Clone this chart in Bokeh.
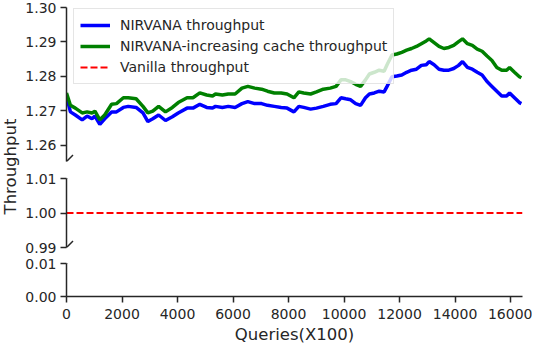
import math
from bokeh.plotting import figure
from bokeh.models import (Range1d, FixedTicker, Arrow, Label, Legend, LegendItem,
                          PrintfTickFormatter)
from bokeh.layouts import row, column
from bokeh.embed import file_html
from bokeh.resources import INLINE

# ---------------- data ----------------
queries = [0, 141, 318, 565, 742, 918, 1024, 1201, 1377, 1625, 1801, 2049, 2225, 2508,
           2755, 2932, 3108, 3320, 3567, 3815, 4026, 4344, 4556, 4804, 5051, 5263, 5369,
           5616, 5828, 6075, 6322, 6534, 6781, 7029, 7241, 7488, 7735, 7947, 8194, 8371,
           8547, 8795, 9007, 9254, 9501, 9713, 9889, 10060, 10238, 10419, 10596, 10773,
           10914, 11090, 11267, 11444, 11550, 11726, 11903, 12080, 12256, 12433, 12609,
           12786, 12962, 13068, 13245, 13422, 13598, 13775, 13951, 14128, 14269, 14446,
           14622, 14799, 14975, 15152, 15329, 15505, 15682, 15858, 15964, 16141, 16318,
           16389]
nirvana = [1.2743, 1.2697, 1.2688, 1.2674, 1.2685, 1.2677, 1.2685, 1.2661, 1.2677, 1.2697,
           1.2697, 1.2710, 1.2713, 1.2710, 1.2694, 1.2669, 1.2677, 1.2688, 1.2672, 1.2683,
           1.2694, 1.2708, 1.2708, 1.2719, 1.2710, 1.2708, 1.2713, 1.2710, 1.2713, 1.2710,
           1.2721, 1.2727, 1.2721, 1.2721, 1.2716, 1.2713, 1.2710, 1.2708, 1.2697, 1.2713,
           1.2710, 1.2705, 1.2708, 1.2713, 1.2719, 1.2721, 1.2738, 1.2735, 1.2732, 1.2721,
           1.2716, 1.2738, 1.2749, 1.2752, 1.2757, 1.2755, 1.2771, 1.2799, 1.2801, 1.2804,
           1.2812, 1.2818, 1.2821, 1.2832, 1.2834, 1.2843, 1.2834, 1.2821, 1.2818, 1.2818,
           1.2823, 1.2832, 1.2843, 1.2826, 1.2821, 1.2812, 1.2804, 1.2785, 1.2771, 1.2757,
           1.2743, 1.2743, 1.2752, 1.2738, 1.2724, 1.2721]
nirvana_inc = [1.2752, 1.2716, 1.2708, 1.2694, 1.2697, 1.2694, 1.2699, 1.2674, 1.2688, 1.2719,
               1.2721, 1.2738, 1.2738, 1.2735, 1.2713, 1.2694, 1.2699, 1.2713, 1.2697, 1.2710,
               1.2724, 1.2738, 1.2738, 1.2752, 1.2746, 1.2743, 1.2749, 1.2746, 1.2749, 1.2749,
               1.2766, 1.2771, 1.2766, 1.2763, 1.2757, 1.2752, 1.2752, 1.2749, 1.2738, 1.2755,
               1.2752, 1.2749, 1.2755, 1.2763, 1.2766, 1.2771, 1.2790, 1.2790, 1.2785, 1.2777,
               1.2771, 1.2790, 1.2807, 1.2812, 1.2818, 1.2815, 1.2834, 1.2862, 1.2865, 1.2870,
               1.2876, 1.2881, 1.2887, 1.2895, 1.2903, 1.2909, 1.2898, 1.2887, 1.2881, 1.2884,
               1.2890, 1.2901, 1.2909, 1.2895, 1.2890, 1.2879, 1.2873, 1.2859, 1.2846, 1.2826,
               1.2818, 1.2818, 1.2826, 1.2812, 1.2799, 1.2796]
vanilla_x = [0, 16430]
vanilla_y = [1.0, 1.0]

x_max = 16430
top_range = (1.2553, 1.30)
mid_range = (0.99, 1.01)
bot_range = (0.0, 0.01)
top_ticks = [1.26, 1.27, 1.28, 1.29, 1.30]
mid_ticks = [0.99, 1.00, 1.01]
bot_ticks = [0.00, 0.01]
x_ticks = [0, 2000, 4000, 6000, 8000, 10000, 12000, 14000, 16000]

labels = ["NIRVANA throughput", "NIRVANA-increasing cache throughput", "Vanilla throughput"]
x_label = "Queries(X100)"
y_label = "Throughput"

# ---------------- style ----------------
TEXT = "#262626"
FONT = "DejaVu Sans"
LEFT_W = 20
MAIN_W = 512
B_LEFT = 46
B_RIGHT = 10
FRAME_W = MAIN_W - B_LEFT - B_RIGHT
MARK = 6.5  # half size of break marks in px

x_range = Range1d(0, x_max)


def make_fig(height, yr, ticks, b_top, b_bottom, show_x):
    p = figure(width=MAIN_W, height=height, x_range=x_range, y_range=Range1d(*yr),
               output_backend="svg", toolbar_location=None, title=None,
               min_border_left=B_LEFT, min_border_right=B_RIGHT,
               min_border_top=b_top, min_border_bottom=b_bottom,
               x_axis_location="below" if show_x else None)
    p.grid.visible = False
    p.outline_line_color = None
    ax = p.yaxis[0]
    ax.ticker = FixedTicker(ticks=ticks)
    ax.formatter = PrintfTickFormatter(format="%.2f")
    ax.major_label_text_font = FONT
    ax.major_label_text_font_size = "14px"
    ax.major_label_text_color = TEXT
    ax.axis_line_color = TEXT
    ax.axis_line_width = 1.5
    ax.major_tick_line_color = TEXT
    ax.major_tick_line_width = 1.5
    ax.major_tick_out = 6
    ax.major_tick_in = 0
    ax.minor_tick_line_color = None
    ax.major_label_standoff = 4
    frame_h = height - b_top - b_bottom
    return p, frame_h


def add_break(p, y0, yr, frame_h):
    dx = x_max * MARK / FRAME_W
    dy = (yr[1] - yr[0]) * MARK / frame_h
    p.add_layout(Arrow(end=None, x_start=-dx, y_start=y0 - dy, x_end=dx, y_end=y0 + dy,
                       line_color=TEXT, line_width=1.5))


TOP_H, MID_H, BOT_H = 169, 86, 91
top, top_h = make_fig(TOP_H, top_range, top_ticks, 7, 8, False)
mid, mid_h = make_fig(MID_H, mid_range, mid_ticks, 9, 8, False)
bot, bot_h = make_fig(BOT_H, bot_range, bot_ticks, 8, 48, True)

for p in (top, mid, bot):
    rb = p.line(queries, nirvana, line_color="#0000ff", line_width=3.5)
    rg = p.line(queries, nirvana_inc, line_color="#008000", line_width=3.5)
    rr = p.line(vanilla_x, vanilla_y, line_color="#ff0000", line_width=2, line_dash="7 3")
    if p is top:
        legend_renderers = [rb, rg, rr]

xa = bot.xaxis[0]
xa.ticker = FixedTicker(ticks=x_ticks)
xa.formatter = PrintfTickFormatter(format="%d")
xa.major_label_text_font = FONT
xa.major_label_text_font_size = "14px"
xa.major_label_text_color = TEXT
xa.axis_line_color = TEXT
xa.axis_line_width = 1.5
xa.major_tick_line_color = TEXT
xa.major_tick_line_width = 1.5
xa.major_tick_out = 6
xa.major_tick_in = 0
xa.minor_tick_line_color = None
xa.major_label_standoff = 6
xa.axis_label = x_label
xa.axis_label_text_font = FONT
xa.axis_label_text_font_size = "16.5px"
xa.axis_label_text_font_style = "normal"
xa.axis_label_text_color = TEXT
xa.axis_label_standoff = 3

add_break(top, top_range[0], top_range, top_h)
add_break(mid, mid_range[1], mid_range, mid_h)
add_break(mid, mid_range[0], mid_range, mid_h)
add_break(bot, bot_range[1], bot_range, bot_h)

legend = Legend(items=[LegendItem(label=l, renderers=[r]) for l, r in zip(labels, legend_renderers)],
                location=(7, top_h - 77), margin=0, padding=6, spacing=1,
                glyph_width=30, glyph_height=20, label_height=20, label_standoff=10,
                label_text_font=FONT, label_text_font_size="14px", label_text_color=TEXT,
                border_line_color="#cccccc", border_line_width=1,
                background_fill_color="white", background_fill_alpha=0.8)
top.add_layout(legend)

total_h = TOP_H + MID_H + BOT_H
lab = figure(width=LEFT_W, height=total_h, x_range=Range1d(0, 1), y_range=Range1d(0, total_h),
             output_backend="svg", toolbar_location=None, title=None,
             x_axis_type=None, y_axis_type=None, min_border=0)
lab.grid.visible = False
lab.outline_line_color = None
lab.add_layout(Label(x=0.5, y=total_h - 166, text=y_label, angle=math.pi / 2,
                     text_align="center", text_baseline="middle", text_font=FONT,
                     text_font_size="16.5px", text_color=TEXT))

layout = row(lab, column(top, mid, bot, spacing=0), spacing=0)
open("out.html", "w").write(file_html(layout, INLINE))
